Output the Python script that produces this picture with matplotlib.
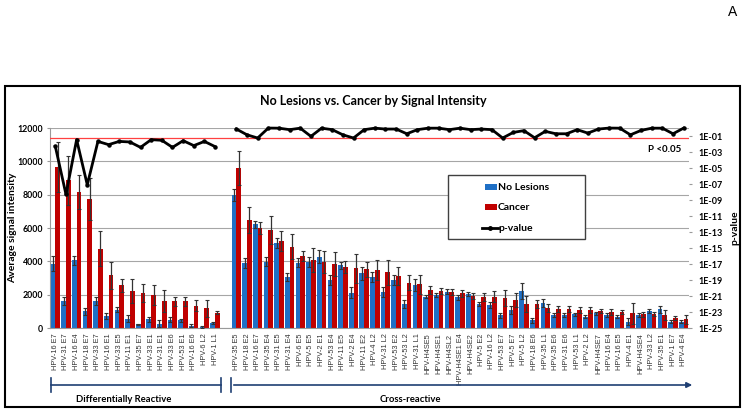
import numpy as np
import matplotlib
matplotlib.use("Agg")
import matplotlib.pyplot as plt
from matplotlib.patches import Rectangle
from matplotlib.lines import Line2D

# ---- data ----
labels_diff = ["HPV-16 E7", "HPV-31 E7", "HPV-16 E4", "HPV-18 E7", "HPV-33 E7", "HPV-16 E1",
               "HPV-33 E5", "HPV-11 E1", "HPV-35 E7", "HPV-33 E1", "HPV-31 E1", "HPV-33 E6",
               "HPV-53 E1", "HPV-16 E6", "HPV-6 L2", "HPV-1 L1"]
labels_cross = ["HPV-35 E5", "HPV-18 E2", "HPV-16 E7", "HPV-35 E4", "HPV-31 E5", "HPV-31 E4",
                "HPV-6 E5", "HPV-5 E5", "HPV-2 E1", "HPV-53 E4", "HPV-11 E5", "HPV-2 E4",
                "HPV-11 E2", "HPV-4 L2", "HPV-31 L2", "HPV-53 E2", "HPV-53 L2", "HPV-31 L1",
                "HPV-H4SE5", "HPV-H4SE1", "HPV-H4SL2", "HPV-H4SE1 E4", "HPV-H4SE2", "HPV-5 E2",
                "HPV-16 L2", "HPV-53 E7", "HPV-5 E7", "HPV-5 L2", "HPV-18 E6", "HPV-35 L1",
                "HPV-35 E6", "HPV-31 E6", "HPV-53 L1", "HPV-2 L2", "HPV-H4SE7", "HPV-16 E4",
                "HPV-16 E5", "HPV-4 E1", "HPV-H4SE4", "HPV-33 L2", "HPV-35 E1", "HPV-1 E7",
                "HPV-4 E4"]

nolesion_diff = [3860, 1620, 4060, 1000, 1620, 720, 1100, 560, 220, 520, 260, 500, 460, 140, 80, 300]
nolesion_diff_err = [460, 240, 260, 200, 240, 200, 160, 200, 40, 140, 200, 160, 100, 80, 50, 60]
cancer_diff = [9660, 8860, 8160, 7760, 4760, 3160, 2560, 2220, 2100, 2000, 1620, 1600, 1600, 1340, 1180, 920]
cancer_diff_err = [1500, 1450, 1040, 1250, 1040, 800, 400, 740, 560, 600, 680, 260, 260, 320, 520, 100]
pval_diff = [5.1e-3, 5e-9, 3.5e-2, 8e-8, 2.1e-2, 8.3e-3, 2.1e-2, 1.8e-2, 3.8e-3, 3.5e-2,
             2.9e-2, 3.8e-3, 2.6e-2, 6.3e-3, 2.1e-2, 4.7e-3]

nolesion_cross = [7980, 3880, 6220, 3980, 5080, 3040, 3920, 3980, 4280, 2880, 3760, 2120, 3280,
                  3080, 2160, 2880, 1440, 2560, 1880, 1980, 2180, 1840, 2040, 1440, 1380, 760,
                  1080, 2230, 480, 1500, 780, 780, 820, 680, 880, 780, 680, 380, 780, 1020,
                  1120, 380, 380]
nolesion_cross_err = [340, 300, 220, 260, 300, 240, 260, 300, 400, 300, 220, 320, 400, 300, 280,
                      300, 240, 360, 100, 140, 140, 140, 140, 140, 200, 160, 240, 480, 150, 220,
                      120, 120, 100, 100, 100, 100, 100, 200, 100, 120, 200, 80, 80]
cancer_cross = [9600, 6480, 6020, 5880, 5220, 4880, 4320, 4080, 3980, 3840, 3660, 3580, 3520,
                3480, 3340, 3140, 2720, 2620, 2280, 2240, 2160, 2080, 1920, 1880, 1880, 1820,
                1660, 1470, 1430, 1200, 1140, 1140, 1080, 1080, 1020, 960, 960, 880, 820, 820,
                780, 620, 520]
cancer_cross_err = [1000, 800, 360, 840, 600, 740, 300, 700, 660, 700, 380, 860, 460, 600, 740,
                    540, 460, 560, 240, 180, 200, 200, 200, 240, 340, 480, 420, 480, 250, 230,
                    160, 160, 200, 180, 120, 160, 140, 640, 160, 120, 280, 120, 260]
pval_cross = [0.74, 0.14, 0.056, 0.98, 0.95, 0.62, 0.95, 0.09, 0.95, 0.62, 0.14, 0.056, 0.62,
              0.95, 0.74, 0.74, 0.19, 0.62, 0.95, 0.95, 0.62, 0.95, 0.62, 0.74, 0.62, 0.056,
              0.28, 0.47, 0.06, 0.38, 0.19, 0.19, 0.62, 0.23, 0.74, 0.98, 0.95, 0.14, 0.5,
              0.95, 0.95, 0.19, 0.98]

# one empty slot between the two groups
labels = labels_diff + [""] + labels_cross
nolesion = np.array(nolesion_diff + [np.nan] + nolesion_cross, dtype=float)
nolesion_err = np.array(nolesion_diff_err + [np.nan] + nolesion_cross_err, dtype=float)
cancer = np.array(cancer_diff + [np.nan] + cancer_cross, dtype=float)
cancer_err = np.array(cancer_diff_err + [np.nan] + cancer_cross_err, dtype=float)
pval = np.array(pval_diff + [np.nan] + pval_cross, dtype=float)
x = np.arange(len(labels))

BLUE = "#1f6fc5"
RED = "#c00000"
NAVY = "#1f3f73"
BOLD = "Lato"

W, H = 746, 411
fig = plt.figure(figsize=(W / 100, H / 100), dpi=100)

def fx(px):
    return px / W

def fy(py):
    return 1 - py / H

ax = fig.add_axes([fx(50), fy(328), fx(689) - fx(50), fy(128) - fy(328)])
bw = 0.44
ax.bar(x - bw / 2, nolesion, bw, color=BLUE, zorder=2)
ax.bar(x + bw / 2, cancer, bw, color=RED, zorder=2)
ax.errorbar(x - bw / 2, nolesion, yerr=nolesion_err, fmt="none", ecolor="#333333",
            elinewidth=0.9, capsize=1.5, capthick=0.8, zorder=3)
ax.errorbar(x + bw / 2, cancer, yerr=cancer_err, fmt="none", ecolor="#333333",
            elinewidth=0.9, capsize=1.5, capthick=0.8, zorder=3)

ax.set_xlim(-0.5, len(labels) - 0.5)
ax.set_ylim(0, 12000)
ax.set_yticks(np.arange(0, 12001, 2000))
ax.yaxis.grid(True, color="#a6a6a6", lw=0.8)
ax.set_axisbelow(True)
for s in ["top", "right"]:
    ax.spines[s].set_visible(False)
for s in ["left", "bottom"]:
    ax.spines[s].set_color("#9a9a9a")
ax.tick_params(axis="y", length=2, color="#9a9a9a", pad=3)
ax.set_yticklabels([str(v) for v in range(0, 12001, 2000)], fontfamily=BOLD,
                   fontweight="bold", fontsize=6.3)
ax.set_xticks(x)
ax.set_xticklabels(labels, rotation=90, fontsize=5.3, fontfamily="Liberation Sans",
                   color="#333333")
ax.tick_params(axis="x", length=0, pad=4)
ax.set_ylabel("Average signal intensity", fontfamily=BOLD, fontweight="bold",
              fontsize=7.5)
ax.yaxis.set_label_coords(-0.052, 0.5)

ax2 = ax.twinx()
ax2.set_yscale("log")
ax2.set_ylim(1e-25, 1)
ax2.plot(x, pval, color="black", lw=2, marker="o", ms=2.2, zorder=4, clip_on=False)
ax2.axhline(0.05, color="#ff4040", lw=0.9, zorder=3)
exps = np.arange(-25, 0, 2)
ax2.set_yticks(10.0 ** exps)
ax2.set_yticklabels([f"1E-{abs(e):02d}" for e in exps], fontfamily=BOLD,
                    fontweight="bold", fontsize=6.5)
ax2.yaxis.set_minor_locator(matplotlib.ticker.NullLocator())
ax2.tick_params(axis="y", length=2.5, color="#9a9a9a", pad=4)
for s in ["top", "left", "bottom", "right"]:
    ax2.spines[s].set_visible(False)
ax2.set_ylabel("p-value", fontfamily=BOLD, fontweight="bold", fontsize=7.5, labelpad=6)
ax2.text(len(labels) - 1.2, 0.05 / 6, "P <0.05", ha="right", va="top", fontfamily=BOLD,
         fontweight="bold", fontsize=7)

# title
fig.text(fx(373), fy(101), "No Lesions vs. Cancer by Signal Intensity", ha="center",
         va="center", fontfamily=BOLD, fontweight="bold", fontsize=9)
fig.text(fx(733), fy(12), "A", ha="center", va="center", fontsize=10,
         fontfamily="Liberation Sans")

# legend box
fig.add_artist(Rectangle((fx(448), fy(239)), fx(585) - fx(448), fy(175) - fy(239),
                         transform=fig.transFigure, facecolor="white", edgecolor="#404040",
                         lw=1.0, zorder=5))
leg_items = [("No Lesions", BLUE, 187), ("Cancer", RED, 207)]
for name, col, yy in leg_items:
    fig.add_artist(Rectangle((fx(485), fy(yy + 3)), fx(497) - fx(485), fy(yy - 3) - fy(yy + 3),
                             transform=fig.transFigure, facecolor=col, edgecolor="none", zorder=6))
    fig.text(fx(498), fy(yy), name, ha="left", va="center", fontfamily=BOLD,
             fontweight="bold", fontsize=7.5, zorder=7)
fig.add_artist(Line2D([fx(482), fx(498)], [fy(228), fy(228)], transform=fig.transFigure,
                      color="black", lw=2, zorder=6))
fig.add_artist(Line2D([fx(490)], [fy(228)], transform=fig.transFigure, color="black",
                      marker="o", ms=2.5, zorder=6))
fig.text(fx(498), fy(228), "p-value", ha="left", va="center", fontfamily=BOLD,
         fontweight="bold", fontsize=7.5, zorder=7)

# group brackets
yb = 385
fig.add_artist(Line2D([fx(51), fx(221)], [fy(yb), fy(yb)], transform=fig.transFigure,
                      color=NAVY, lw=1.2))
for xx in (51, 221, 231):
    fig.add_artist(Line2D([fx(xx), fx(xx)], [fy(yb - 7), fy(yb + 7)],
                          transform=fig.transFigure, color=NAVY, lw=1.2))
fig.patches.append(matplotlib.patches.FancyArrowPatch(
    (fx(231), fy(yb)), (fx(695), fy(yb)), transform=fig.transFigure,
    arrowstyle="-|>", mutation_scale=8, color=NAVY, lw=1.2))
fig.text(fx(124), fy(399), "Differentially Reactive", ha="center", va="center",
         fontfamily=BOLD, fontweight="bold", fontsize=6.8)
fig.text(fx(410), fy(399), "Cross-reactive", ha="center", va="center",
         fontfamily=BOLD, fontweight="bold", fontsize=6.8)

# outer frame
fig.add_artist(Rectangle((fx(5), fy(407)), fx(740) - fx(5), fy(86) - fy(407),
                         transform=fig.transFigure, fill=False, edgecolor="black", lw=1.5))

fig.savefig("out.png", dpi=100)
